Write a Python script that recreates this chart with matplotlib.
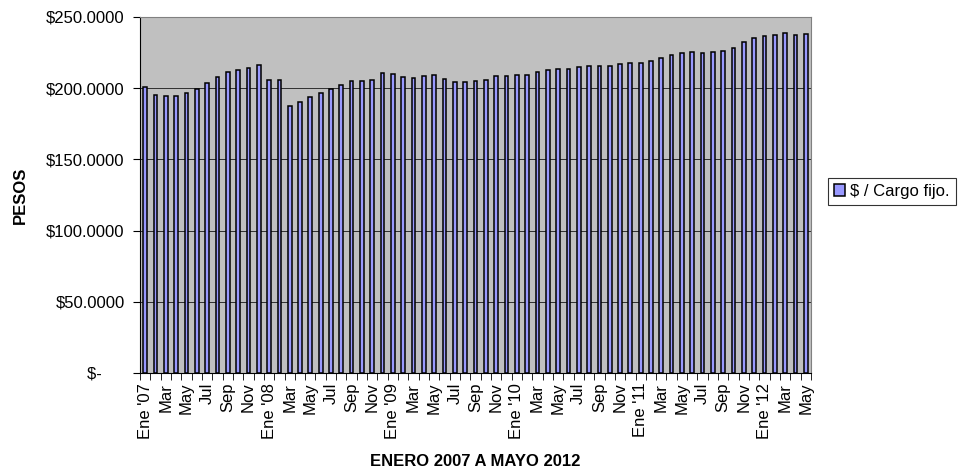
import matplotlib
matplotlib.use('Agg')
import matplotlib.pyplot as plt
from matplotlib.ticker import FuncFormatter, FixedLocator

plt.rcParams['font.family'] = ['Liberation Sans', 'DejaVu Sans']

# Ene 2007 .. May 2012, one value per month
meses = ['Ene', 'Feb', 'Mar', 'Abr', 'May', 'Jun', 'Jul', 'Ago', 'Sep', 'Oct', 'Nov', 'Dic']
anios = ['07', '08', '09', '10', '11', '12']

cargo_fijo = [
    200.9, 195.3, 194.4, 194.6, 196.3, 199.3, 203.7, 207.9, 211.2, 212.9, 214.0, 216.2,
    206.1, 206.1, 187.6, 190.4, 193.9, 196.5, 199.5, 201.9, 205.1, 205.1, 205.8, 210.7,
    210.0, 207.9, 207.2, 208.6, 209.3, 206.8, 204.4, 204.4, 205.1, 206.1, 208.9, 208.9,
    209.1, 209.3, 211.2, 212.6, 213.8, 213.8, 215.2, 215.7, 215.9, 215.9, 216.9, 218.0,
    217.6, 219.0, 221.3, 223.2, 224.6, 225.3, 224.6, 225.3, 225.8, 228.3, 232.1, 235.1,
    236.8, 237.7, 238.6, 237.5, 238.2,
]

etiquetas = []
for i in range(len(cargo_fijo)):
    m = meses[i % 12]
    if i % 12 == 0:
        m = f"{m} '{anios[i // 12]}"
    etiquetas.append(m)

fs = 12

fig = plt.figure(figsize=(9.61, 4.72), dpi=100)
ax = fig.add_axes([140 / 961, 1 - 373 / 472, 671 / 961, 356 / 472])
ax.set_facecolor('#C0C0C0')

x = list(range(len(cargo_fijo)))
ax.bar(x, cargo_fijo, width=0.36, color='#9999FF', edgecolor='black', linewidth=1.1,
       label='$ / Cargo fijo.', zorder=3)

ax.set_xlim(-0.5, len(cargo_fijo) - 0.5)
ax.set_ylim(0, 250)
ax.set_yticks([0, 50, 100, 150, 200, 250])
ax.yaxis.set_major_formatter(FuncFormatter(lambda v, p: '$-     ' if v == 0 else f'${v:.4f}'))
ax.yaxis.grid(True, color='#303030', linewidth=0.7, zorder=1)
ax.set_axisbelow(True)

ax.set_xticks(x[::2])
ax.set_xticklabels(etiquetas[::2], rotation=90)
ax.xaxis.set_minor_locator(FixedLocator([i - 0.5 for i in range(len(cargo_fijo) + 1)]))
ax.tick_params(axis='x', which='major', length=0, pad=7, labelsize=fs)
ax.tick_params(axis='x', which='minor', length=5, direction='out', color='black')
ax.tick_params(axis='y', length=5, direction='out', labelsize=fs, pad=6)

for s in ['top', 'right']:
    ax.spines[s].set_color('#808080')
for s in ['left', 'bottom']:
    ax.spines[s].set_color('black')

ax.set_ylabel('PESOS', fontsize=fs, fontweight='bold', labelpad=13)
ax.set_xlabel('ENERO 2007 A MAYO 2012', fontsize=fs, fontweight='bold', labelpad=11)

leg = ax.legend(loc='center left', bbox_to_anchor=(1.025, 0.51), frameon=True, fancybox=False,
                edgecolor='black', fontsize=fs, handlelength=0.7, handleheight=0.7,
                handletextpad=0.3, borderpad=0.35, borderaxespad=0)
leg.get_frame().set_linewidth(0.8)

fig.savefig('out.png', dpi=100)
